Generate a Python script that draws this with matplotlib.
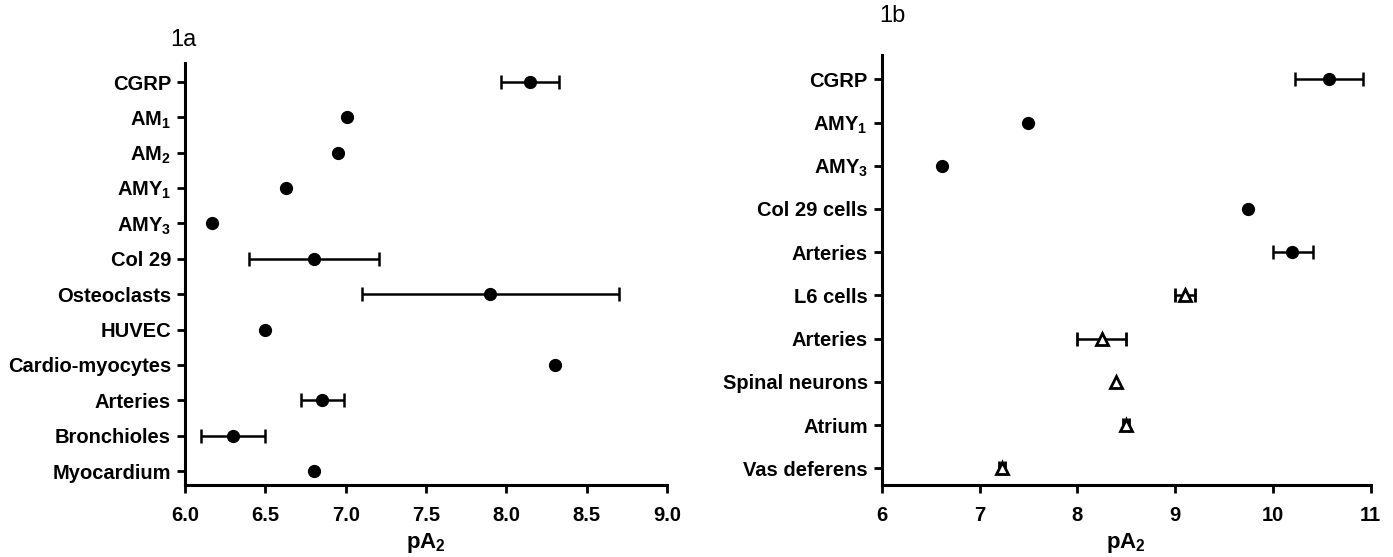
import numpy as np
import matplotlib
matplotlib.use("Agg")
from matplotlib import pyplot as plt

plt.rcParams['font.family'] = ['Liberation Sans', 'DejaVu Sans']
plt.rcParams['font.weight'] = 'bold'
plt.rcParams['mathtext.fontset'] = 'custom'
plt.rcParams['mathtext.rm'] = 'Liberation Sans:bold'
plt.rcParams['mathtext.bf'] = 'Liberation Sans:bold'
plt.rcParams['mathtext.default'] = 'rm'

# panel 1a data
labels_a = ["CGRP", "AM$_1$", "AM$_2$", "AMY$_1$", "AMY$_3$", "Col 29", "Osteoclasts",
            "HUVEC", "Cardio-myocytes", "Arteries", "Bronchioles", "Myocardium"]
pa2_a = [8.15, 7.01, 6.95, 6.63, 6.17, 6.80, 7.90, 6.50, 8.30, 6.85, 6.30, 6.80]
low_a = [7.97, 7.01, 6.95, 6.63, 6.17, 6.40, 7.10, 6.50, 8.30, 6.72, 6.10, 6.80]
high_a = [8.33, 7.01, 6.95, 6.63, 6.17, 7.21, 8.70, 6.50, 8.30, 6.99, 6.50, 6.80]

# panel 1b data (circles first, then open triangles)
labels_b = ["CGRP", "AMY$_1$", "AMY$_3$", "Col 29 cells", "Arteries",
            "L6 cells", "Arteries", "Spinal neurons", "Atrium", "Vas deferens"]
pa2_b = [10.57, 7.50, 6.62, 9.75, 10.20, 9.10, 8.25, 8.40, 8.50, 7.23]
low_b = [10.23, 7.50, 6.62, 9.75, 10.00, 9.00, 8.00, 8.40, 8.47, 7.20]
high_b = [10.92, 7.50, 6.62, 9.75, 10.41, 9.20, 8.50, 8.40, 8.53, 7.26]
marker_b = ["o", "o", "o", "o", "o", "^", "^", "^", "^", "^"]

fig = plt.figure(figsize=(13.93, 5.57), dpi=100)
ax1 = fig.add_axes([0.1328, 0.129, 0.346, 0.758])
ax2 = fig.add_axes([0.633, 0.129, 0.351, 0.772])


def point(ax, val, y, lo, hi, m):
    if m == "o":
        kw = dict(fmt='o', color='black', ms=8.5)
    else:
        kw = dict(fmt='^', color='black', mfc='white', mec='black', mew=2, ms=8)
    if hi - lo > 1e-9:
        ax.errorbar([val], [y], xerr=[[val - lo], [hi - val]], elinewidth=1.8,
                    capsize=5, capthick=1.8, **kw)
    else:
        ax.errorbar([val], [y], **kw)


def style(ax):
    for s in ["top", "right"]:
        ax.spines[s].set_visible(False)
    for s in ["left", "bottom"]:
        ax.spines[s].set_linewidth(2.2)
    ax.tick_params(axis='both', width=2, length=6, labelsize=14.5)
    ax.tick_params(axis='x', pad=9)
    ax.tick_params(axis='y', pad=4)
    for t in ax.get_xticklabels() + ax.get_yticklabels():
        t.set_fontweight('bold')
    ax.set_xlabel("pA$_2$", fontsize=16, fontweight='bold', labelpad=4)


# 1a
y_a = np.arange(len(labels_a))
for i in range(len(labels_a)):
    point(ax1, pa2_a[i], y_a[i], low_a[i], high_a[i], "o")
ax1.set_yticks(y_a)
ax1.set_yticklabels(labels_a)
ax1.set_ylim(11.4, -0.54)
ax1.set_xlim(6.0, 9.0)
ax1.set_xticks(np.arange(6.0, 9.01, 0.5))
ax1.set_xticklabels(["%.1f" % t for t in np.arange(6.0, 9.01, 0.5)])
style(ax1)
ax1.set_title("1a", loc='left', fontsize=17, fontweight='normal', x=-0.03, pad=12)

# 1b
y_b = np.arange(len(labels_b))
for i in range(len(labels_b)):
    point(ax2, pa2_b[i], y_b[i], low_b[i], high_b[i], marker_b[i])
ax2.set_yticks(y_b)
ax2.set_yticklabels(labels_b)
ax2.set_ylim(9.39, -0.56)
ax2.set_xlim(6, 11)
ax2.set_xticks(range(6, 12))
style(ax2)
ax2.set_title("1b", loc='left', fontsize=17, fontweight='normal', x=-0.005, pad=24)

fig.savefig("out.png", dpi=100)
